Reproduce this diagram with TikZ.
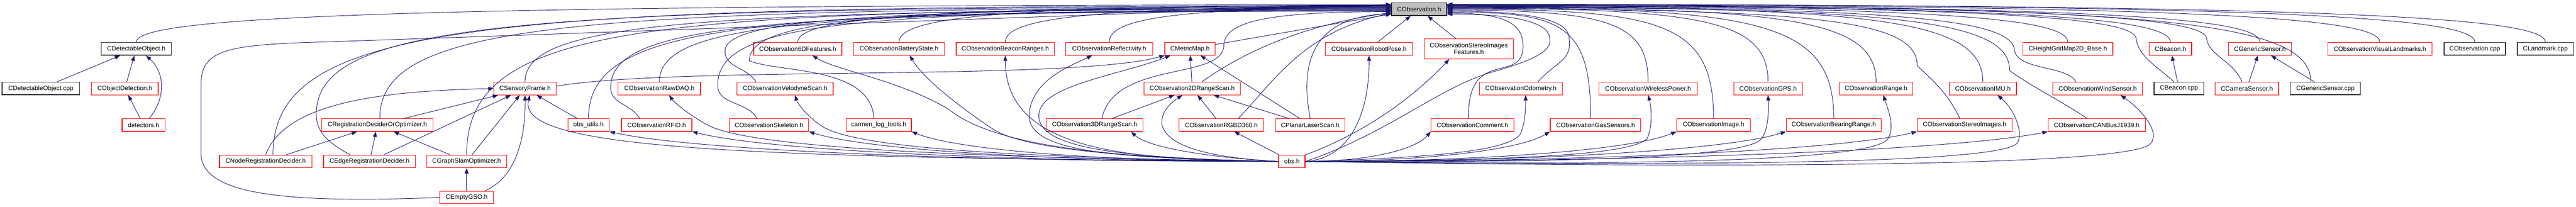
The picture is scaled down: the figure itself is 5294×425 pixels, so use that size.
\documentclass[tikz,border=0pt]{standalone}
\usepackage{fontspec}
\usepackage{tikz}
\usetikzlibrary{arrows.meta, calc}
\newfontfamily\doxyfont{Liberation Sans}
\definecolor{edgeblue}{RGB}{25,25,112}
\definecolor{boxred}{RGB}{255,0,0}
\definecolor{boxgray}{RGB}{191,191,191}
\tikzset{
    hdr/.style={draw=boxred, fill=white, line width=1.3pt, minimum height=26pt, inner sep=2pt,
        font=\doxyfont\fontsize{13pt}{14pt}\selectfont},
    leaf/.style={hdr, draw=black!85, line width=1.6pt},
    root/.style={leaf, fill=boxgray},
    dep/.style={draw=edgeblue, line width=1pt, -{Triangle[length=11pt,width=8pt]}},
    totop/.style={to path={let \p1=(\tikztostart), \p2=(\tikztotarget) in
        .. controls (\x1,\y2-25pt) and ({\x1+0.2*(\x2-\x1)},\y2) .. (\tikztotarget)}},
    fromobs/.style={to path={let \p1=(\tikztostart), \p2=(\tikztotarget) in
        .. controls ({\x1+0.5*(\x2-\x1)},\y1) and ({\x2-0.12*(\x2-\x1)},{\y1+0.4*(\y2-\y1)}) .. (\tikztotarget)}}
}

\begin{document}
\begin{tikzpicture}[x=1pt, y=1pt]
    \useasboundingbox (0,0) rectangle (5294,425);
    % row 1
    \node[root, minimum width=113pt] (obs) at (2916.5,406) {CObservation.h};
    % row 2
    \node[leaf, minimum width=144pt] (cdo) at (280,324.5) {CDetectableObject.h};
    \node[hdr, minimum width=181pt] (f6d) at (1639.5,324.5) {CObservation6DFeatures.h};
    \node[hdr, minimum width=187pt] (bat) at (1847.5,324.5) {CObservationBatteryState.h};
    \node[hdr, minimum width=202pt] (bcr) at (2066,324.5) {CObservationBeaconRanges.h};
    \node[hdr, minimum width=179pt] (refl) at (2279.5,324.5) {CObservationReflectivity.h};
    \node[hdr, minimum width=103pt] (mmap) at (2445.5,324.5) {CMetricMap.h};
    \node[hdr, minimum width=179pt] (rpose) at (2813.5,324.5) {CObservationRobotPose.h};
    \node[hdr, minimum width=183pt, minimum height=41pt, align=center] (sif) at (3018.5,324.5) {CObservationStereoImages\\Features.h};
    \node[hdr, minimum width=185pt] (hgm) at (4249.5,324.5) {CHeightGridMap2D\_Base.h};
    \node[hdr, minimum width=87pt] (bcn) at (4460.5,324.5) {CBeacon.h};
    \node[hdr, minimum width=129pt] (gsh) at (4644.5,324.5) {CGenericSensor.h};
    \node[hdr, minimum width=214pt] (vlm) at (4891,324.5) {CObservationVisualLandmarks.h};
    \node[leaf, minimum width=126pt] (ocpp) at (5086,324.5) {CObservation.cpp};
    \node[leaf, minimum width=116pt] (lcpp) at (5231,324.5) {CLandmark.cpp};
    % row 3
    \node[leaf, minimum width=159pt] (cdocpp) at (84,243) {CDetectableObject.cpp};
    \node[hdr, minimum width=137pt] (objdet) at (256.5,243) {CObjectDetection.h};
    \node[hdr, minimum width=128pt] (sf) at (1079,243) {CSensoryFrame.h};
    \node[hdr, minimum width=170pt] (raw) at (1355,243) {CObservationRawDAQ.h};
    \node[hdr, minimum width=197pt] (velo) at (1613.5,243) {CObservationVelodyneScan.h};
    \node[hdr, minimum width=198pt] (r2d) at (2450,243) {CObservation2DRangeScan.h};
    \node[hdr, minimum width=171pt] (odo) at (3125.5,243) {CObservationOdometry.h};
    \node[hdr, minimum width=202pt] (wpow) at (3387,243) {CObservationWirelessPower.h};
    \node[hdr, minimum width=141pt] (gps) at (3633.5,243) {CObservationGPS.h};
    \node[hdr, minimum width=151pt] (rng) at (3855.5,243) {CObservationRange.h};
    \node[hdr, minimum width=138pt] (imu) at (4075,243) {CObservationIMU.h};
    \node[hdr, minimum width=184pt] (wind) at (4311,243) {CObservationWindSensor.h};
    \node[leaf, minimum width=102pt] (bcpp) at (4478,243) {CBeacon.cpp};
    \node[hdr, minimum width=131pt] (cam) at (4617.5,243) {CCameraSensor.h};
    \node[leaf, minimum width=144pt] (gscpp) at (4779,243) {CGenericSensor.cpp};
    % row 4
    \node[hdr, minimum width=88pt] (det) at (295,168) {detectors.h};
    \node[hdr, minimum width=229pt] (rdo) at (775.5,168) {CRegistrationDeciderOrOptimizer.h};
    \node[hdr, minimum width=85pt] (outils) at (1209.5,168) {obs\_utils.h};
    \node[hdr, minimum width=145pt] (rfid) at (1349.5,168) {CObservationRFID.h};
    \node[hdr, minimum width=163pt] (skel) at (1580.5,168) {CObservationSkeleton.h};
    \node[hdr, minimum width=134pt] (carmen) at (1806,168) {carmen\_log\_tools.h};
    \node[hdr, minimum width=199pt] (r3d) at (2249.5,168) {CObservation3DRangeScan.h};
    \node[hdr, minimum width=174pt] (rgbd) at (2510,168) {CObservationRGBD360.h};
    \node[hdr, minimum width=143pt] (pls) at (2692.5,168) {CPlanarLaserScan.h};
    \node[hdr, minimum width=170pt] (cmt) at (3026,168) {CObservationComment.h};
    \node[hdr, minimum width=186pt] (gas) at (3279,168) {CObservationGasSensors.h};
    \node[hdr, minimum width=151pt] (img) at (3521.5,168) {CObservationImage.h};
    \node[hdr, minimum width=195pt] (bear) at (3768.5,168) {CObservationBearingRange.h};
    \node[hdr, minimum width=195pt] (stereo) at (4037.5,168) {CObservationStereoImages.h};
    \node[hdr, minimum width=200pt] (can) at (4309,168) {CObservationCANBusJ1939.h};
    % row 5
    \node[hdr, minimum width=190pt] (nrd) at (546,93) {CNodeRegistrationDecider.h};
    \node[hdr, minimum width=189pt] (erd) at (759.5,93) {CEdgeRegistrationDecider.h};
    \node[hdr, minimum width=164pt] (gso) at (959,93) {CGraphSlamOptimizer.h};
    \node[hdr, minimum width=54pt] (obsh) at (2655,93) {obs.h};
    % row 6
    \node[hdr, minimum width=110pt] (empty) at (959,19) {CEmptyGSO.h};

    % into CObservation.h
    \foreach \h/\o/\s in {cdo/0/9,nrd/15/7,rdo/5/3,gso/0/1,sf/0/0,outils/0/-2,raw/0/-3,f6d/0/6,bat/0/8,bcr/0/5,refl/0/3}
        \draw[dep] ([xshift=\o pt]\h.north) to[totop] ([yshift=\s pt]obs.west);
    \foreach \h/\o/\s in {gas/-10/-6,wpow/0/-2,img/0/0,gps/0/2,bear/0/3,rng/0/4,imu/0/5,hgm/0/6,bcn/0/7,gsh/0/8,gscpp/-30/8,vlm/0/9,ocpp/0/10,lcpp/0/10}
        \draw[dep] ([xshift=\o pt]\h.north) to[totop] ([yshift=\s pt]obs.east);
    \draw[dep] ([xshift=-40pt]erd.north) to[out=150,in=-90] (650,190) to[totop] ([yshift=5pt]obs.west);
    \draw[dep] (empty.west) .. controls (560,5) and (413,30) .. (413,110) -- (413,250)
        .. controls (413,320) and (460,332) .. (640,338) .. controls (900,346) and (2400,400) .. ([yshift=10pt]obs.west);
    \draw[dep] ([xshift=-35pt]rfid.north) to[out=120,in=-90] (1255,245) to[totop] ([yshift=-4pt]obs.west);
    \draw[dep] ([xshift=-60pt]velo.north) to[out=120,in=-90] (1490,320) to[totop] ([yshift=2pt]obs.west);
    \draw[dep] ([xshift=-25pt]skel.north) to[out=120,in=-90] (1475,250) to[totop] ([yshift=-1pt]obs.west);
    \draw[dep] ([xshift=-10pt]carmen.north) .. controls (1790,290) and (1600,275) .. (1540,300) to[totop] ([yshift=4pt]obs.west);
    \draw[dep] ([xshift=20pt]r2d.north) .. controls (2530,300) and (2650,370) .. ([yshift=-7pt]obs.west);
    \draw[dep] ([xshift=15pt]r3d.north) .. controls (2290,300) and (2510,260) .. (2515,330) to[totop] ([yshift=-5pt]obs.west);
    \draw[dep] ([xshift=35pt]rgbd.north) .. controls (2620,260) and (2680,360) .. ([yshift=-8pt]obs.west);
    \draw[dep] (pls.north) .. controls (2670,300) and (2700,390) .. ([yshift=-9pt]obs.west);
    \draw[dep] (mmap) -- (obs);
    \draw[dep] (rpose) -- (obs);
    \draw[dep] (sif) -- (obs);
    \draw[dep] ([xshift=-8pt]cmt.north) .. controls (3015,330) and (3130,250) .. (3130,330) to[totop] ([yshift=-8pt]obs.east);
    \draw[dep] ([xshift=35pt]odo.north) .. controls (3200,300) and (3230,300) .. (3225,345) to[totop] ([yshift=-4pt]obs.east);
    \draw[dep] (obsh.east) .. controls (2850,150) and (2950,240) .. (3060,275)
        .. controls (3150,300) and (3190,320) .. (3185,345) to[totop] ([yshift=-10pt]obs.east);
    \draw[dep] ([xshift=-10pt]stereo.north) .. controls (4000,240) and (3960,270) .. (3940,290) to[totop] ([yshift=1pt]obs.east);
    \draw[dep] ([xshift=-20pt]can.north) .. controls (4240,215) and (4170,250) .. (4130,280) to[totop] ([yshift=4pt]obs.east);
    \draw[dep] ([xshift=-45pt]wind.north) .. controls (4250,290) and (4150,280) .. (4140,320) to[totop] ([yshift=5pt]obs.east);
    \draw[dep] ([xshift=-10pt]bcpp.north) .. controls (4430,290) and (4395,310) .. (4390,345) to[totop] ([yshift=7pt]obs.east);
    \draw[dep] ([xshift=-10pt]cam.north) .. controls (4590,300) and (4540,310) .. (4535,345) to[totop] ([yshift=8pt]obs.east);

    % out of obs.h
    \foreach \h in {outils,rfid,skel,carmen}
        \draw[dep] (obsh.west) to[fromobs] (\h.south east);
    \foreach \h in {cmt,gas,img,bear,stereo,can}
        \draw[dep] (obsh.east) to[fromobs] (\h.south west);
    \draw[dep] (obsh.west) .. controls (1500,100) and (1060,120) .. ([xshift=10pt]sf.south);
    \draw[dep] (obsh.west) .. controls (2000,100) and (1560,120) .. (1460,165) .. controls (1420,185) and (1385,215) .. ([xshift=20pt]raw.south);
    \draw[dep] (obsh.west) .. controls (2100,100) and (1760,120) .. (1690,165) .. controls (1660,185) and (1640,210) .. ([xshift=20pt]velo.south);
    \draw[dep] (obsh.west) .. controls (2500,100) and (2400,120) .. (2388,168) .. controls (2385,190) and (2400,210) .. ([xshift=-20pt]r2d.south);
    \draw[dep] (obsh.west) .. controls (2300,100) and (2050,120) .. (1950,200) .. controls (1850,260) and (1720,280) .. ([xshift=30pt]f6d.south);
    \draw[dep] (obsh.west) .. controls (2300,100) and (2100,120) .. (2040,160) .. controls (1980,200) and (1900,260) .. ([xshift=22pt]bat.south);
    \draw[dep] (obsh.west) .. controls (2300,95) and (2066,120) .. (bcr.south);
    \draw[dep] (obsh.west) .. controls (2300,100) and (2110,110) .. (2115,190) .. controls (2120,260) and (2200,290) .. ([xshift=-35pt]refl.south);
    \draw[dep] (obsh.west) .. controls (2300,100) and (2130,120) .. (2135,190) .. controls (2140,250) and (2300,270) .. ([xshift=-40pt]mmap.south);
    \draw[dep] (obsh.west) .. controls (2500,100) and (2360,120) .. ([xshift=75pt]r3d.south);
    \draw[dep] (obsh) -- (rgbd);
    \draw[dep] (obsh.north east) .. controls (2800,150) and (2900,220) .. ([xshift=-40pt]sif.south);
    \draw[dep] (obsh.east) .. controls (2780,100) and (2814,200) .. (rpose.south);
    \draw[dep] (obsh.east) .. controls (2900,100) and (3100,110) .. (3125,150) .. controls (3135,175) and (3135,200) .. ([xshift=10pt]odo.south);
    \draw[dep] (obsh.east) .. controls (3100,95) and (3350,105) .. (3385,140) .. controls (3395,160) and (3395,200) .. (wpow.south);
    \draw[dep] (obsh.east) .. controls (3200,90) and (3560,100) .. (3615,135) .. controls (3635,150) and (3635,200) .. (gps.south);
    \draw[dep] (obsh.east) .. controls (3300,85) and (3850,90) .. (3880,140) .. controls (3895,165) and (3880,200) .. ([xshift=15pt]rng.south);
    \draw[dep] (obsh.east) .. controls (3400,85) and (4100,85) .. (4145,130) .. controls (4160,150) and (4140,200) .. ([xshift=30pt]imu.south);
    \draw[dep] (obsh.east) .. controls (3500,80) and (4380,80) .. (4420,130) .. controls (4440,155) and (4400,200) .. ([xshift=47pt]wind.south);

    % the rest
    \draw[dep] (cdocpp) -- (cdo);
    \draw[dep] (objdet) -- (cdo);
    \draw[dep] (det) -- (objdet);
    \draw[dep] ([xshift=12pt]det.north) .. controls (345,230) and (335,280) .. ([xshift=20pt]cdo.south);
    \draw[dep] (nrd) -- (rdo);
    \draw[dep] (erd) -- (rdo);
    \draw[dep] (gso) -- (rdo);
    \draw[dep] (nrd.north) .. controls +(40,110) and +(-220,-5) .. (sf.west);
    \draw[dep] (erd) -- (sf);
    \draw[dep] (rdo) -- (sf);
    \draw[dep] (gso) -- (sf);
    \draw[dep] (empty) -- (gso);
    \draw[dep] (empty.20) .. controls (1060,60) and (1080,140) .. (sf.south);
    \draw[dep] (outils) -- (sf);
    \draw[dep] ([yshift=5pt]sf.east) .. controls (1400,290) and (2200,258) .. (mmap.south west);
    \draw[dep] (r2d) -- (mmap);
    \draw[dep] (pls) -- (mmap);
    \draw[dep] (r3d) -- (r2d);
    \draw[dep] (rgbd) -- (r2d);
    \draw[dep] (pls) -- (r2d);
    \draw[dep] (bcpp) -- (bcn);
    \draw[dep] (cam) -- (gsh);
    \draw[dep] (gscpp) -- (gsh);
\end{tikzpicture}
\end{document}
